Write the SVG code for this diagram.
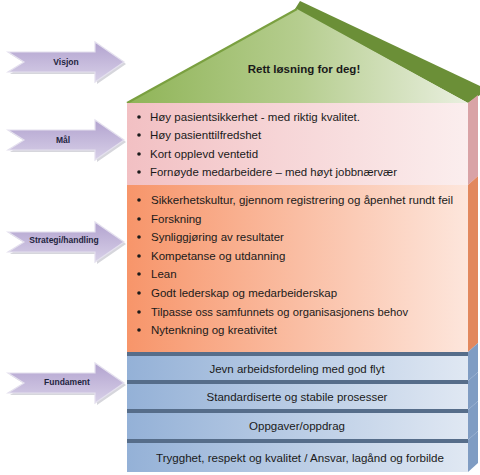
<svg xmlns="http://www.w3.org/2000/svg" width="480" height="475" viewBox="0 0 480 475">
  <defs>
    <linearGradient id="gRoof" x1="0" y1="0" x2="1" y2="0">
      <stop offset="0" stop-color="#8fb457"/>
      <stop offset="0.5" stop-color="#b5cd8e"/>
      <stop offset="1" stop-color="#e9efdf"/>
    </linearGradient>
    <linearGradient id="gPink" x1="0" y1="0" x2="1" y2="0">
      <stop offset="0" stop-color="#f2c0c3"/>
      <stop offset="1" stop-color="#fbeeee"/>
    </linearGradient>
    <linearGradient id="gOrange" x1="0" y1="0" x2="1" y2="0">
      <stop offset="0" stop-color="#f7956a"/>
      <stop offset="1" stop-color="#fde6dc"/>
    </linearGradient>
    <linearGradient id="gBlue" x1="0" y1="0" x2="1" y2="0">
      <stop offset="0" stop-color="#94b1d7"/>
      <stop offset="1" stop-color="#e0e8f3"/>
    </linearGradient>
    <linearGradient id="gArrow" x1="0" y1="0" x2="0" y2="1">
      <stop offset="0" stop-color="#b2a3cf"/>
      <stop offset="1" stop-color="#d8d0e8"/>
    </linearGradient>
    <path id="arrow" d="M8,-10 L95,-10 L95,-20 L124,0 L95,20 L95,10 L8,10 L24,0 Z"/>
  </defs>
  <style>
    .t { font-family: "Liberation Sans", Arial, sans-serif; font-size: 11.5px; fill: #1a1a1a; }
    .c { text-anchor: middle; }
    .b { font-weight: bold; }
    .lbl { font-family: "Liberation Sans", Arial, sans-serif; font-size: 8.5px; font-weight: bold; fill: #1f2540; text-anchor: middle; }
    .dot { fill: #1a1a1a; }
    .arrowShadow { fill: #d6d6dc; }
    .arrowBody { fill: url(#gArrow); stroke: #e4e0ee; stroke-width: 1.2; }
    .edge { fill: #566d8a; }
    .layer { fill: url(#gBlue); }
    .side { fill: #7f9cc3; }
  </style>

  <g id="arrows">
    <g id="arrow-visjon" transform="translate(0,62)">
      <use href="#arrow" class="arrowShadow" transform="translate(2,2)"/>
      <use href="#arrow" class="arrowBody"/>
      <text class="lbl" x="66" y="3">Visjon</text>
    </g>
    <g id="arrow-maal" transform="translate(0,140)">
      <use href="#arrow" class="arrowShadow" transform="translate(2,2)"/>
      <use href="#arrow" class="arrowBody"/>
      <text class="lbl" x="63" y="3">Mål</text>
    </g>
    <g id="arrow-strategi" transform="translate(0,242)">
      <use href="#arrow" class="arrowShadow" transform="translate(2,2)"/>
      <use href="#arrow" class="arrowBody"/>
      <text class="lbl" x="64" y="1">Strategi/handling</text>
    </g>
    <g id="arrow-fundament" transform="translate(0,383)">
      <use href="#arrow" class="arrowShadow" transform="translate(2,2)"/>
      <use href="#arrow" class="arrowBody"/>
      <text class="lbl" x="67" y="2">Fundament</text>
    </g>
  </g>

  <g id="roof">
    <polygon points="295,9 300,1 480,86 480,95 468,103" fill="#6b8f37"/>
    <polygon points="127,103 297,9 468,103" fill="url(#gRoof)"/>
    <polyline points="127,103 297,9" fill="none" stroke="#7aa040" stroke-width="2"/>
    <text class="t b c" x="304" y="73" font-size="13">Rett løsning for deg!</text>
  </g>

  <g id="maal">
    <polygon points="468,103 478,95 478,176 468,185" fill="#d9a3a6"/>
    <rect x="127" y="103" width="341" height="82" fill="url(#gPink)"/>
    <circle class="dot" cx="139" cy="117" r="1.8"/>
    <circle class="dot" cx="139" cy="135" r="1.8"/>
    <circle class="dot" cx="139" cy="154" r="1.8"/>
    <circle class="dot" cx="139" cy="172" r="1.8"/>
    <text class="t" x="150" y="121" textLength="210" lengthAdjust="spacingAndGlyphs">Høy pasientsikkerhet - med riktig kvalitet.</text>
    <text class="t" x="150" y="139">Høy pasienttilfredshet</text>
    <text class="t" x="150" y="158">Kort opplevd ventetid</text>
    <text class="t" x="150" y="176" textLength="247" lengthAdjust="spacingAndGlyphs">Fornøyde medarbeidere – med høyt jobbnærvær</text>
  </g>

  <g id="strategi">
    <polygon points="468,185 478,176 478,343 468,352" fill="#e2885e"/>
    <rect x="127" y="185" width="341" height="167" fill="url(#gOrange)"/>
    <circle class="dot" cx="139" cy="200" r="1.8"/>
    <circle class="dot" cx="139" cy="219" r="1.8"/>
    <circle class="dot" cx="139" cy="237" r="1.8"/>
    <circle class="dot" cx="139" cy="256" r="1.8"/>
    <circle class="dot" cx="139" cy="274" r="1.8"/>
    <circle class="dot" cx="139" cy="293" r="1.8"/>
    <circle class="dot" cx="139" cy="312" r="1.8"/>
    <circle class="dot" cx="139" cy="330" r="1.8"/>
    <text class="t" x="151" y="204" textLength="302" lengthAdjust="spacingAndGlyphs">Sikkerhetskultur, gjennom registrering og åpenhet rundt feil</text>
    <text class="t" x="151" y="223">Forskning</text>
    <text class="t" x="151" y="241">Synliggjøring av resultater</text>
    <text class="t" x="151" y="260">Kompetanse og utdanning</text>
    <text class="t" x="151" y="278">Lean</text>
    <text class="t" x="151" y="297">Godt lederskap og medarbeiderskap</text>
    <text class="t" x="151" y="316" textLength="257" lengthAdjust="spacingAndGlyphs">Tilpasse oss samfunnets og organisasjonens behov</text>
    <text class="t" x="151" y="334">Nytenkning og kreativitet</text>
  </g>

  <g id="fundament-1">
    <polygon class="side" points="468,352 478,343 478,372 468,381"/>
    <rect class="layer" x="127" y="352" width="341" height="29"/>
    <rect class="edge" x="127" y="352" width="341" height="4"/>
    <text class="t c" x="297" y="373">Jevn arbeidsfordeling med god flyt</text>
  </g>
  <g id="fundament-2">
    <polygon class="side" points="468,381 478,372 478,401 468,410"/>
    <rect class="layer" x="127" y="381" width="341" height="29"/>
    <rect class="edge" x="127" y="380" width="341" height="4"/>
    <text class="t c" x="297" y="401">Standardiserte og stabile prosesser</text>
  </g>
  <g id="fundament-3">
    <polygon class="side" points="468,410 478,401 478,431 468,440"/>
    <rect class="layer" x="127" y="410" width="341" height="30"/>
    <rect class="edge" x="127" y="409" width="341" height="4"/>
    <text class="t c" x="297" y="430">Oppgaver/oppdrag</text>
  </g>
  <g id="fundament-4">
    <polygon class="side" points="468,440 478,431 478,463 468,472"/>
    <rect class="layer" x="127" y="440" width="341" height="32"/>
    <rect class="edge" x="127" y="439" width="341" height="4"/>
    <text class="t c" x="300" y="462" textLength="288" lengthAdjust="spacingAndGlyphs">Trygghet, respekt og kvalitet / Ansvar, lagånd og forbilde</text>
  </g>
</svg>
